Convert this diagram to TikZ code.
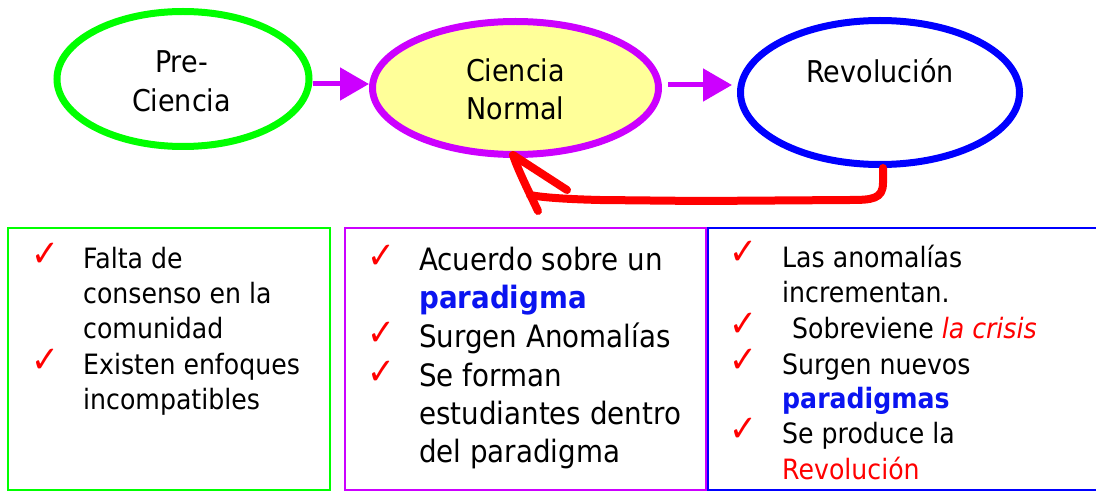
\documentclass[tikz,border=0pt]{standalone}
\usepackage{fontspec}
\setmainfont{DejaVu Sans}[FakeStretch=0.9]
\usetikzlibrary{shapes.geometric,arrows.meta}
\definecolor{cgreen}{HTML}{00FF00}
\definecolor{cpurple}{HTML}{CC00FF}
\definecolor{cblue}{HTML}{0000FF}
\definecolor{cyellow}{HTML}{FFFF99}
\definecolor{cred}{HTML}{FF0000}
\definecolor{cword}{HTML}{0A14F0}
\newcommand\fsEll{\fontsize{30}{36}\selectfont}
\newcommand\fsSide{\fontsize{28}{34}\selectfont}
\newcommand\fsMid{\fontsize{30.8}{37}\selectfont}
\newcommand\chkmark{\char"2713}
\begin{document}
\begin{tikzpicture}[x=1pt,y=-1pt,
  oval/.style={ellipse, draw, line width=7pt, inner sep=0pt},
  ovallabel/.style={anchor=base, inner sep=0pt, font=\fsEll},
  panel/.style={rectangle, draw, line width=2.5pt, inner sep=0pt, minimum height=262pt},
  itemline/.style={anchor=base west, inner sep=0pt},
  chk/.style={anchor=base west, inner sep=0pt, text=cred, text height=20pt, text depth=0pt,
    font=\fontsize{37}{37}\selectfont},
  parrow/.style={draw=cpurple, line width=5pt, -{Triangle[length=29pt,width=32pt]}},
  redline/.style={draw=cred, line width=8pt, line cap=round, line join=round}]
\useasboundingbox (0,0) rectangle (1096,492);
\clip (0,0) rectangle (1096,492);

% panels
\node[panel, draw=cgreen, minimum width=322pt] (pg) at (169,359) {};
\node[panel, draw=cpurple, minimum width=361pt] (pp) at (525.5,359) {};
\node[panel, draw=cblue, minimum width=392pt] (pb) at (904,359) {};

% ellipses
\node[oval, draw=cgreen, minimum width=252pt, minimum height=135pt] (pre) at (183,79) {};
\node[oval, draw=cpurple, fill=cyellow, minimum width=286pt, minimum height=133pt] (normal) at (515.5,88) {};
\node[oval, draw=cblue, minimum width=279pt, minimum height=144pt] (rev) at (880,92.5) {};

\node[ovallabel] (preA) at (181.5,73) {Pre-};
\node[ovallabel] (preB) at (181.5,112) {Ciencia};
\node[ovallabel] (normA) at (515.5,82) {Ciencia};
\node[ovallabel] (normB) at (515.5,120) {Normal};
\node[ovallabel] (revA) at (880,83) {Revolución};

% purple arrows
\draw[parrow] ([yshift=-5pt]pre.east) -- ([yshift=4pt]normal.west);
\draw[parrow] ([xshift=6pt,yshift=3pt]normal.east) -- ([xshift=-5pt,yshift=7.5pt]rev.west);

% red hand-drawn return arrow
\coordinate (tip) at ([xshift=-2.5pt,yshift=3pt]normal.south);
\draw[redline] ([xshift=3pt]rev.south) -- (883,183)
  .. controls (883,199) and (872,200) .. (850,200) -- (700,201) -- (600,200)
  .. controls (560,199) and (540,197) .. (530,195);
\draw[redline] (538,211) .. controls (528,190) and (518,170) .. (tip) -- (567,190);

% green panel text
\node[chk] (gc1) at (31,266) {\chkmark};
\node[itemline, font=\fsSide] (g1) at (83,268) {Falta de};
\node[itemline, font=\fsSide] (g2) at (83,303) {consenso en la};
\node[itemline, font=\fsSide] (g3) at (83,338) {comunidad};
\node[chk] (gc2) at (31,372) {\chkmark};
\node[itemline, font=\fsSide] (g4) at (83,374) {Existen enfoques};
\node[itemline, font=\fsSide] (g5) at (83,409) {incompatibles};

% purple panel text
\node[chk] (pc1) at (367,268) {\chkmark};
\node[itemline, font=\fsMid] (p1) at (419,270) {Acuerdo sobre un};
\node[itemline, font=\fsMid] (p2) at (419,308) {\bfseries\color{cword}paradigma};
\node[chk] (pc2) at (367,345) {\chkmark};
\node[itemline, font=\fsMid] (p3) at (419,347) {Surgen Anomalías};
\node[chk] (pc3) at (367,384) {\chkmark};
\node[itemline, font=\fsMid] (p4) at (419,386) {Se forman};
\node[itemline, font=\fsMid] (p5) at (419,424) {estudiantes dentro};
\node[itemline, font=\fsMid] (p6) at (419,462) {del paradigma};

% blue panel text
\node[chk] (bc1) at (729,265) {\chkmark};
\node[itemline, font=\fsSide] (b1) at (782,267) {Las anomalías};
\node[itemline, font=\fsSide] (b2) at (782,302) {incrementan.};
\node[chk] (bc2) at (729,336) {\chkmark};
\node[itemline, font=\fsSide] (b3) at (792,338) {Sobreviene {\itshape\color{cred}la crisis}};
\node[chk] (bc3) at (729,372) {\chkmark};
\node[itemline, font=\fsSide] (b4) at (782,374) {Surgen nuevos};
\node[itemline, font=\fsSide] (b5) at (782,408) {\bfseries\color{cword}paradigmas};
\node[chk] (bc4) at (729,441) {\chkmark};
\node[itemline, font=\fsSide] (b6) at (782,443) {Se produce la};
\node[itemline, font=\fsSide] (b7) at (782,479) {\color{cred}Revolución};
\end{tikzpicture}
\end{document}
